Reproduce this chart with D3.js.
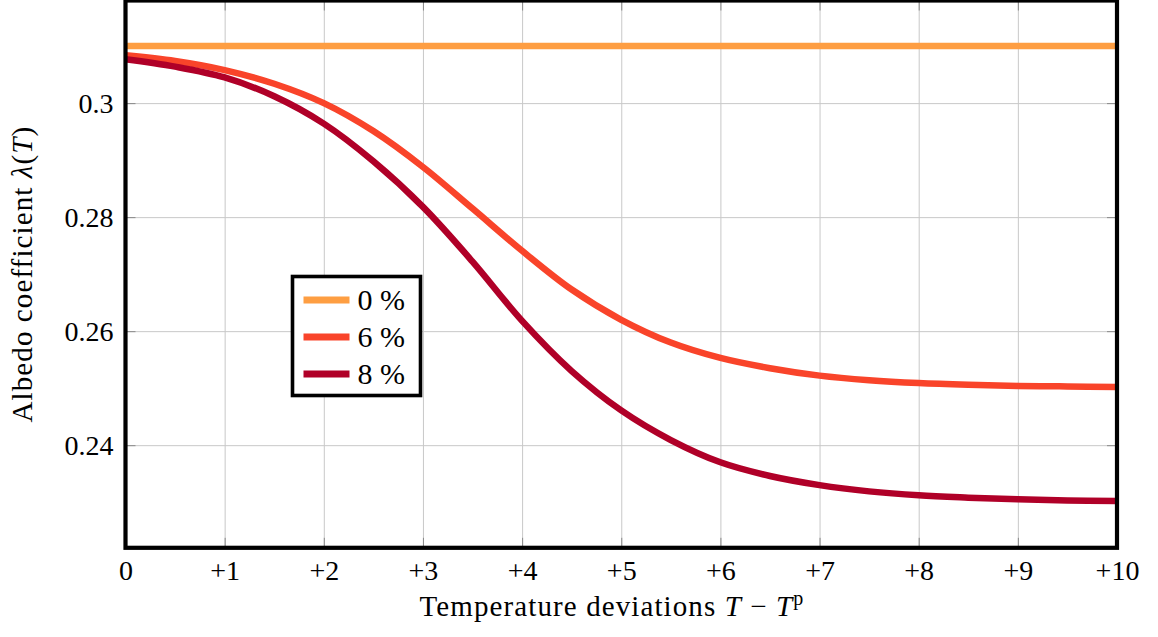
<!DOCTYPE html>
<html>
<meta charset="UTF-8">
<head>
<style>
body { margin: 0; background: white; }
text { font-family: "Liberation Serif", "DejaVu Serif", serif; fill: black; }
.grid line { stroke: #c8c8c8; stroke-width: 1; }
.grid path { display: none; }
.ticks line { stroke: #8a8a8a; stroke-width: 1; }
.ticks path { display: none; }
</style>
</head>
<body>
<script src="https://d3js.org/d3.v7.min.js"></script>
<script>

// data
var xs = [0, 0.5, 1, 1.5, 2, 2.5, 3, 3.5, 4, 4.5, 5, 5.5, 6, 6.5, 7, 7.5, 8, 8.5, 9, 9.5, 10]
var albedo0 = [0.31, 0.31, 0.31, 0.31, 0.31, 0.31, 0.31, 0.31, 0.31, 0.31, 0.31,
               0.31, 0.31, 0.31, 0.31, 0.31, 0.31, 0.31, 0.31, 0.31, 0.31]
var albedo6 = [0.3084, 0.3074, 0.3058, 0.3034, 0.3000, 0.2951, 0.2888, 0.2815, 0.2741, 0.2673, 0.2620,
               0.2580, 0.2553, 0.2535, 0.2522, 0.2514, 0.2509, 0.2506, 0.2504, 0.2503, 0.2502]
var albedo8 = [0.3077, 0.3064, 0.3045, 0.3012, 0.2964, 0.2898, 0.2818, 0.2722, 0.2618, 0.2530, 0.2461,
               0.2409, 0.2370, 0.2346, 0.2330, 0.2319, 0.2312, 0.2308, 0.2305, 0.2303, 0.2302]
var seriesNames = ['0 %', '6 %', '8 %']
var xTicks = [0, 1, 2, 3, 4, 5, 6, 7, 8, 9, 10]
var xTickLabels = ['0', '+1', '+2', '+3', '+4', '+5', '+6', '+7', '+8', '+9', '+10']
var yTicks = [0.24, 0.26, 0.28, 0.3]
var yTickLabels = ['0.24', '0.26', '0.28', '0.3']

// canvas
var svgWidth = 1158
    svgHeight = 637
    plot = {left: 125.5, right: 1117, top: 0.5, bottom: 547.8}
    colors = ['#fe9e42', '#f9442a', '#b00028']
    tickSize = 28
    titleSize = 29

var svg = d3.select('body').append('svg')
          .attr('width', svgWidth)
          .attr('height', svgHeight)

var xScale = d3.scaleLinear().domain([0, 10]).range([plot.left, plot.right])
var yScale = d3.scaleLinear().domain([0.222, 0.318]).range([plot.bottom, plot.top])

var w = plot.right - plot.left
    h = plot.bottom - plot.top

// grid lines
svg.append('g').attr('class', 'grid')
    .attr('transform', 'translate(0,' + plot.bottom + ')')
    .call(d3.axisBottom(xScale).tickValues(xTicks).tickSize(-h).tickFormat(''))
svg.append('g').attr('class', 'grid')
    .attr('transform', 'translate(' + plot.left + ',0)')
    .call(d3.axisLeft(yScale).tickValues(yTicks).tickSize(-w).tickFormat(''))

// short inward ticks on all four sides
svg.append('g').attr('class', 'ticks')
    .attr('transform', 'translate(0,' + plot.bottom + ')')
    .call(d3.axisBottom(xScale).tickValues(xTicks).tickSize(-10).tickFormat(''))
svg.append('g').attr('class', 'ticks')
    .attr('transform', 'translate(0,' + plot.top + ')')
    .call(d3.axisTop(xScale).tickValues(xTicks).tickSize(-10).tickFormat(''))
svg.append('g').attr('class', 'ticks')
    .attr('transform', 'translate(' + plot.left + ',0)')
    .call(d3.axisLeft(yScale).tickValues(yTicks).tickSize(-10).tickFormat(''))
svg.append('g').attr('class', 'ticks')
    .attr('transform', 'translate(' + plot.right + ',0)')
    .call(d3.axisRight(yScale).tickValues(yTicks).tickSize(-10).tickFormat(''))

// curves, clipped to the plot box
svg.append('clipPath').attr('id', 'clip')
    .append('rect')
    .attr('x', plot.left).attr('y', plot.top)
    .attr('width', w).attr('height', h)

var line = d3.line()
    .x(d => xScale(d[0]))
    .y(d => yScale(d[1]))
    .curve(d3.curveCatmullRom.alpha(0.5))

var allSeries = [albedo0, albedo6, albedo8]

svg.append('g').attr('clip-path', 'url(#clip)')
    .selectAll('path')
    .data(allSeries)
    .enter().append('path')
      .attr('d', s => line(xs.map((x, i) => [x, s[i]])))
      .attr('fill', 'none')
      .attr('stroke', (s, i) => colors[i])
      .attr('stroke-width', 6.5)

// frame
svg.append('rect')
    .attr('x', plot.left).attr('y', plot.top)
    .attr('width', w).attr('height', h)
    .attr('fill', 'none')
    .attr('stroke', 'black')
    .attr('stroke-width', 4.2)

// tick labels
svg.append('g')
    .attr('transform', 'translate(0,' + plot.bottom + ')')
    .call(d3.axisBottom(xScale).tickValues(xTicks).tickSize(0).tickPadding(12)
            .tickFormat((d, i) => xTickLabels[i]))
    .call(g => g.select('.domain').remove())
    .selectAll('text')
      .attr('font-size', tickSize)
      .attr('font-family', null)

svg.append('g')
    .attr('transform', 'translate(' + plot.left + ',0)')
    .call(d3.axisLeft(yScale).tickValues(yTicks).tickSize(0).tickPadding(12)
            .tickFormat((d, i) => yTickLabels[i]))
    .call(g => g.select('.domain').remove())
    .selectAll('text')
      .attr('font-size', tickSize)
      .attr('font-family', null)

// axis titles
var xTitle = svg.append('text')
    .attr('x', 612)
    .attr('y', 616)
    .attr('text-anchor', 'middle')
    .attr('font-size', titleSize)
    .attr('letter-spacing', 1.1)
xTitle.append('tspan').text('Temperature deviations ')
xTitle.append('tspan').attr('font-style', 'italic').text('T')
xTitle.append('tspan').text(' \u2212 ')
xTitle.append('tspan').attr('font-style', 'italic').text('T')
xTitle.append('tspan').attr('font-size', 20).attr('dy', -11).text('p')

var yTitle = svg.append('text')
    .attr('transform', 'translate(32,' + ((plot.top + plot.bottom) / 2) + ') rotate(-90)')
    .attr('text-anchor', 'middle')
    .attr('font-size', titleSize)
    .attr('letter-spacing', 1.1)
yTitle.append('tspan').text('Albedo coefficient ')
yTitle.append('tspan').attr('font-style', 'italic').text('\u03bb')
yTitle.append('tspan').text('(')
yTitle.append('tspan').attr('font-style', 'italic').text('T')
yTitle.append('tspan').text(')')

// legend
var legend = svg.append('g').attr('transform', 'translate(292.5,276.5)')
legend.append('rect')
    .attr('width', 128).attr('height', 119)
    .attr('fill', 'white')
    .attr('stroke', 'black')
    .attr('stroke-width', 3.6)

var rows = legend.selectAll('.row')
    .data(seriesNames)
    .enter().append('g')
      .attr('class', 'row')
      .attr('transform', (d, i) => 'translate(0,' + (23.5 + i * 37) + ')')
rows.append('line')
    .attr('x1', 11).attr('x2', 57)
    .attr('stroke', (d, i) => colors[i])
    .attr('stroke-width', 7)
rows.append('text')
    .attr('x', 65)
    .attr('y', 10)
    .attr('font-size', 30)
    .text(d => d)

</script>
</body>
</html>
